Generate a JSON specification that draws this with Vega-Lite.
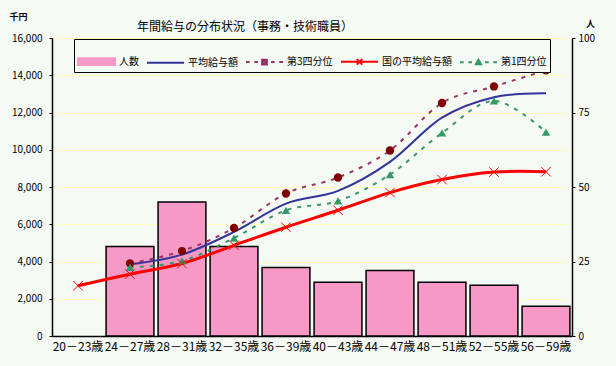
{
  "$schema": "https://vega.github.io/schema/vega-lite/v6.json",
  "width": 520,
  "height": 298,
  "autosize": {"type": "none"},
  "padding": {"left": 52, "top": 38, "right": 44, "bottom": 30},
  "background": "#F5FAF5",
  "config": {
    "view": {"stroke": null},
    "font": "Noto Sans CJK JP",
    "axis": {"labelFont": "Noto Sans CJK JP", "titleFont": "Noto Sans CJK JP", "labelColor": "black", "titleColor": "black"},
    "legend": {
      "orient": "none", "legendX": 22, "legendY": 1, "direction": "horizontal", "columns": 5,
      "title": null, "symbolSize": 1369, "symbolStrokeWidth": 2, "symbolOpacity": 1,
      "labelFontSize": 10, "labelFont": "Noto Sans CJK JP", "labelColor": "black", "labelOffset": 3,
      "columnPadding": 4, "padding": 3, "strokeColor": "black", "fillColor": "#F5FAF5", "labelLimit": 200
    }
  },
  "title": {
    "text": "年間給与の分布状況（事務・技術職員）",
    "anchor": "start",
    "dx": 128,
    "dy": 26,
    "fontSize": 12,
    "fontWeight": "normal",
    "color": "black",
    "font": "Noto Sans CJK JP"
  },
  "datasets": {
    "people": [
      {"age": "24－27歳", "series": "人数", "value": 30},
      {"age": "28－31歳", "series": "人数", "value": 45},
      {"age": "32－35歳", "series": "人数", "value": 30},
      {"age": "36－39歳", "series": "人数", "value": 23},
      {"age": "40－43歳", "series": "人数", "value": 18},
      {"age": "44－47歳", "series": "人数", "value": 22},
      {"age": "48－51歳", "series": "人数", "value": 18},
      {"age": "52－55歳", "series": "人数", "value": 17},
      {"age": "56－59歳", "series": "人数", "value": 10}
    ],
    "salary": [
      {"age": "24－27歳", "series": "平均給与額", "value": 3850},
      {"age": "28－31歳", "series": "平均給与額", "value": 4370},
      {"age": "32－35歳", "series": "平均給与額", "value": 5590},
      {"age": "36－39歳", "series": "平均給与額", "value": 7110},
      {"age": "40－43歳", "series": "平均給与額", "value": 7790},
      {"age": "44－47歳", "series": "平均給与額", "value": 9350},
      {"age": "48－51歳", "series": "平均給与額", "value": 11720},
      {"age": "52－55歳", "series": "平均給与額", "value": 12820},
      {"age": "56－59歳", "series": "平均給与額", "value": 13030},
      {"age": "24－27歳", "series": "第3四分位", "value": 3900},
      {"age": "28－31歳", "series": "第3四分位", "value": 4560},
      {"age": "32－35歳", "series": "第3四分位", "value": 5800},
      {"age": "36－39歳", "series": "第3四分位", "value": 7650},
      {"age": "40－43歳", "series": "第3四分位", "value": 8510},
      {"age": "44－47歳", "series": "第3四分位", "value": 9960},
      {"age": "48－51歳", "series": "第3四分位", "value": 12510},
      {"age": "52－55歳", "series": "第3四分位", "value": 13400},
      {"age": "56－59歳", "series": "第3四分位", "value": 14260},
      {"age": "20－23歳", "series": "国の平均給与額", "value": 2700},
      {"age": "24－27歳", "series": "国の平均給与額", "value": 3320},
      {"age": "28－31歳", "series": "国の平均給与額", "value": 3890},
      {"age": "32－35歳", "series": "国の平均給与額", "value": 4870},
      {"age": "36－39歳", "series": "国の平均給与額", "value": 5840},
      {"age": "40－43歳", "series": "国の平均給与額", "value": 6750},
      {"age": "44－47歳", "series": "国の平均給与額", "value": 7700},
      {"age": "48－51歳", "series": "国の平均給与額", "value": 8400},
      {"age": "52－55歳", "series": "国の平均給与額", "value": 8800},
      {"age": "56－59歳", "series": "国の平均給与額", "value": 8820},
      {"age": "24－27歳", "series": "第1四分位", "value": 3680},
      {"age": "28－31歳", "series": "第1四分位", "value": 4030},
      {"age": "32－35歳", "series": "第1四分位", "value": 5260},
      {"age": "36－39歳", "series": "第1四分位", "value": 6750},
      {"age": "40－43歳", "series": "第1四分位", "value": 7250},
      {"age": "44－47歳", "series": "第1四分位", "value": 8670},
      {"age": "48－51歳", "series": "第1四分位", "value": 10900},
      {"age": "52－55歳", "series": "第1四分位", "value": 12620},
      {"age": "56－59歳", "series": "第1四分位", "value": 10950}
    ]
  },
  "layer": [
    {
      "data": {"name": "people"},
      "mark": {"type": "bar", "stroke": "black", "strokeWidth": 1.5},
      "encoding": {
        "x": {
          "field": "age", "type": "nominal",
          "sort": ["20－23歳","24－27歳","28－31歳","32－35歳","36－39歳","40－43歳","44－47歳","48－51歳","52－55歳","56－59歳"],
          "scale": {"domain": ["20－23歳","24－27歳","28－31歳","32－35歳","36－39歳","40－43歳","44－47歳","48－51歳","52－55歳","56－59歳"], "paddingInner": 0.08, "paddingOuter": 0.04},
          "axis": {"title": null, "labelAngle": 0, "labelFontSize": 12, "labelPadding": 5, "ticks": false, "domainColor": "black", "domainWidth": 1.5, "labelOverlap": false, "labelBound": false, "grid": false}
        },
        "y": {
          "field": "value", "type": "quantitative",
          "scale": {"domain": [0, 100], "nice": false},
          "axis": {"orient": "right", "values": [0, 25, 50, 75, 100], "grid": false, "domainColor": "black", "domainWidth": 1.5, "tickColor": "black", "tickSize": 3, "labelPadding": 3, "labelFontSize": 10, "title": "人", "titleAngle": 0, "titleX": 18, "titleY": -15, "titleAlign": "center", "titleBaseline": "middle", "titleFontSize": 9, "titleFontWeight": "bold"}
        },
        "color": {
          "field": "series", "type": "nominal",
          "scale": {"domain": ["人数","平均給与額","第3四分位","国の平均給与額","第1四分位"], "range": ["#F799C6","#333399","#993366","#FF0000","#339966"]}
        }
      }
    },
    {
      "data": {"name": "salary"},
      "encoding": {
        "x": {
          "field": "age", "type": "nominal",
          "sort": ["20－23歳","24－27歳","28－31歳","32－35歳","36－39歳","40－43歳","44－47歳","48－51歳","52－55歳","56－59歳"],
          "scale": {"domain": ["20－23歳","24－27歳","28－31歳","32－35歳","36－39歳","40－43歳","44－47歳","48－51歳","52－55歳","56－59歳"]}
        },
        "y": {
          "field": "value", "type": "quantitative",
          "scale": {"domain": [0, 16000], "nice": false},
          "axis": {"orient": "left", "values": [0,2000,4000,6000,8000,10000,12000,14000,16000], "format": ",d", "grid": true, "gridColor": "#FFFFC0", "gridWidth": 1, "domainColor": "black", "domainWidth": 1.5, "tickColor": "black", "tickSize": 3, "labelPadding": 7, "labelFontSize": 10, "title": "千円", "titleAngle": 0, "titleX": -34, "titleY": -22, "titleAlign": "center", "titleBaseline": "middle", "titleFontSize": 9, "titleFontWeight": "bold"}
        }
      },
      "layer": [
        {
          "mark": {"type": "point", "filled": true, "opacity": 0},
          "encoding": {
            "shape": {
              "field": "series", "type": "nominal",
              "scale": {"domain": ["人数","平均給与額","第3四分位","国の平均給与額","第1四分位"], "range": ["M-1,-0.18H1V0.18H-1Z", "M-1,0H1", "M-1,0H-0.8M-0.55,0H-0.35M0.35,0H0.55M0.8,0H1M-0.13,-0.13H0.13V0.13H-0.13Z", "M-1,0H1M-0.15,-0.15L0.15,0.15M-0.15,0.15L0.15,-0.15", "M-1,0H-0.8M-0.55,0H-0.35M0.35,0H0.55M0.8,0H1M-0.14,0.12L0,-0.13L0.14,0.12Z"]}
            }
          }
        },
        {
          "transform": [{"filter": "datum.series==='平均給与額'"}],
          "mark": {"type": "line", "interpolate": "cardinal", "strokeWidth": 2},
          "encoding": {"color": {"field": "series", "type": "nominal"}}
        },
        {
          "transform": [{"filter": "datum.series==='第3四分位'"}],
          "mark": {"type": "line", "interpolate": "cardinal", "strokeWidth": 2, "strokeDash": [4, 6]},
          "encoding": {"color": {"field": "series", "type": "nominal"}}
        },
        {
          "transform": [{"filter": "datum.series==='国の平均給与額'"}],
          "mark": {"type": "line", "interpolate": "cardinal", "strokeWidth": 3},
          "encoding": {"color": {"field": "series", "type": "nominal"}}
        },
        {
          "transform": [{"filter": "datum.series==='第1四分位'"}],
          "mark": {"type": "line", "interpolate": "cardinal", "strokeWidth": 2, "strokeDash": [4, 6]},
          "encoding": {"color": {"field": "series", "type": "nominal"}}
        },
        {
          "transform": [{"filter": "datum.series==='第3四分位'"}],
          "mark": {"type": "point", "shape": "circle", "filled": true, "color": "#800000", "size": 70, "opacity": 1}
        },
        {
          "transform": [{"filter": "datum.series==='第1四分位'"}],
          "mark": {"type": "point", "shape": "triangle-up", "filled": true, "color": "#339966", "size": 70, "opacity": 1}
        },
        {
          "transform": [{"filter": "datum.series==='国の平均給与額'"}],
          "mark": {"type": "point", "shape": "M-1,-1L1,1M-1,1L1,-1", "filled": false, "stroke": "#FF0000", "strokeWidth": 1, "size": 90, "opacity": 1}
        }
      ]
    }
  ],
  "resolve": {"scale": {"y": "independent"}}
}
